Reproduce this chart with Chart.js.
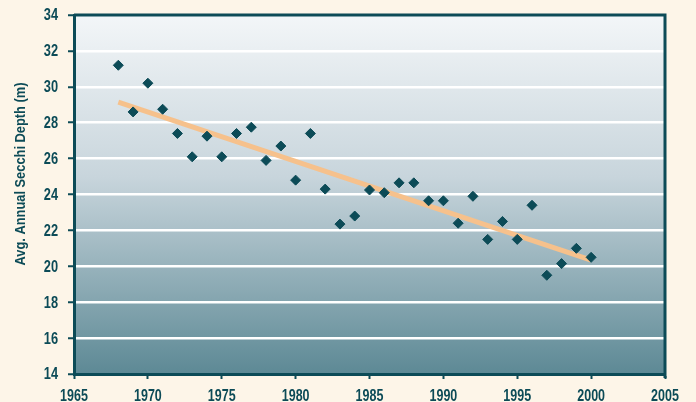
<!DOCTYPE html>
<html>
<head>
<meta charset="utf-8">
<script src="https://cdn.jsdelivr.net/npm/chart.js@4/dist/chart.umd.min.js"></script>
<style>
  html, body { margin: 0; padding: 0; background: #fdf5e8; }
  #wrap { width: 696px; height: 402px; position: relative; }
</style>
</head>
<body>
<div id="wrap"><canvas id="chart" width="696" height="402"></canvas></div>
<script>
// Secchi depth by year
const years = [1968, 1969, 1970, 1971, 1972, 1973, 1974, 1975, 1976, 1977, 1978,
  1979, 1980, 1981, 1982, 1983, 1984, 1985, 1986, 1987, 1988, 1989, 1990,
  1991, 1992, 1993, 1994, 1995, 1996, 1997, 1998, 1999, 2000];
const depths = [31.2, 28.6, 30.2, 28.75, 27.4, 26.1, 27.25, 26.1, 27.4, 27.75, 25.9,
  26.7, 24.8, 27.4, 24.3, 22.35, 22.8, 24.25, 24.1, 24.65, 24.65, 23.65, 23.65,
  22.4, 23.9, 21.5, 22.5, 21.5, 23.4, 19.5, 20.15, 21.0, 20.5];

// trend line ends
const trendYears = [1968, 2000];
const trendDepths = [29.15, 20.35];

const xTicks = [1965, 1970, 1975, 1980, 1985, 1990, 1995, 2000, 2005];
const yTicks = [14, 16, 18, 20, 22, 24, 26, 28, 30, 32, 34];
const yTitle = 'Avg. Annual Secchi Depth (m)';

const dark = '#0c4b57';
const labelFont = "bold 16px 'Liberation Sans', Arial, sans-serif";

// squeezed text, the original uses a narrow bold face
function narrowText(ctx, text, x, y, align, squeeze) {
  ctx.save();
  ctx.translate(x, y);
  ctx.scale(squeeze, 1);
  ctx.textAlign = align;
  ctx.fillText(text, 0, 0);
  ctx.restore();
}

// gradient behind the plot, frame, labels
const plotBg = {
  id: 'plotBg',
  beforeDraw(chart) {
    const { ctx, chartArea: a } = chart;
    const g = ctx.createLinearGradient(0, a.top, 0, a.bottom);
    g.addColorStop(0, '#f3f6f8');
    g.addColorStop(0.45, '#c8d5dc');
    g.addColorStop(1, '#5d8995');
    ctx.save();
    ctx.fillStyle = g;
    ctx.fillRect(a.left, a.top, a.right - a.left, a.bottom - a.top);
    ctx.restore();
  },
  afterDraw(chart) {
    const { ctx, chartArea: a } = chart;
    const xs = chart.scales.x, ys = chart.scales.y;
    ctx.save();
    ctx.strokeStyle = dark;
    ctx.lineWidth = 3;
    ctx.beginPath();
    ctx.moveTo(a.left, a.top);
    ctx.lineTo(a.right, a.top);
    ctx.lineTo(a.right, a.bottom + 4);
    ctx.stroke();

    ctx.fillStyle = dark;
    ctx.font = labelFont;
    ctx.textBaseline = 'middle';
    yTicks.forEach(v => narrowText(ctx, String(v), a.left - 16, ys.getPixelForValue(v) + 1, 'right', 0.8));
    ctx.textBaseline = 'alphabetic';
    xTicks.forEach(v => narrowText(ctx, String(v), xs.getPixelForValue(v), 401, 'center', 0.78));

    // y axis title
    ctx.font = "bold 15px 'Liberation Sans', Arial, sans-serif";
    const w = ctx.measureText(yTitle).width;
    ctx.translate(21, 174);
    ctx.rotate(-Math.PI / 2);
    ctx.textBaseline = 'middle';
    narrowText(ctx, yTitle, 0, 0, 'center', 183 / w);
    ctx.restore();
  }
};

new Chart(document.getElementById('chart'), {
  type: 'scatter',
  data: {
    datasets: [
      {
        label: 'Trend',
        type: 'line',
        data: trendYears.map((x, i) => ({ x, y: trendDepths[i] })),
        borderColor: '#f6c18c',
        borderWidth: 5,
        pointRadius: 0,
        order: 2
      },
      {
        label: 'Secchi depth',
        data: years.map((x, i) => ({ x, y: depths[i] })),
        pointStyle: 'rectRot',
        pointRadius: 5,
        backgroundColor: dark,
        borderColor: dark,
        borderWidth: 1,
        order: 1
      }
    ]
  },
  options: {
    responsive: false,
    animation: false,
    layout: { padding: { left: 0, right: 31, top: 15, bottom: 0 } },
    plugins: { legend: { display: false }, tooltip: { enabled: false } },
    scales: {
      x: {
        type: 'linear',
        min: 1965, max: 2005,
        afterBuildTicks: s => { s.ticks = xTicks.map(v => ({ value: v })); },
        afterFit: s => { s.height = 28; },
        grid: { drawOnChartArea: false, tickLength: 5, tickColor: dark, tickWidth: 2 },
        border: { display: true, color: dark, width: 3 },
        ticks: { display: false }
      },
      y: {
        min: 14, max: 34,
        afterBuildTicks: s => { s.ticks = yTicks.map(v => ({ value: v })); },
        afterFit: s => { s.width = 74; },
        grid: { color: '#ffffff', lineWidth: 2.5, tickLength: 6, tickColor: dark, tickWidth: 2 },
        border: { display: true, color: dark, width: 3 },
        ticks: { display: false }
      }
    }
  },
  plugins: [plotBg]
});
</script>
</body>
</html>
